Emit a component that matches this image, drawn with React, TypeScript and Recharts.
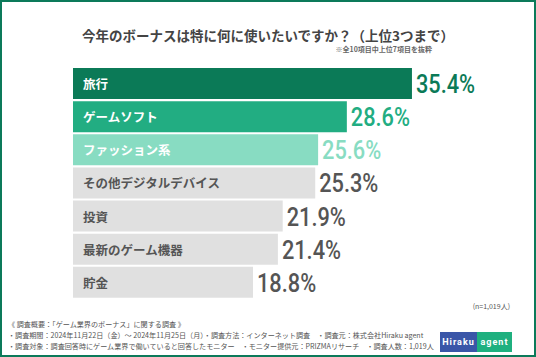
import React from 'react';
import { BarChart, Bar, XAxis, YAxis, Cell, LabelList } from 'recharts';

const categories = ['旅行', 'ゲームソフト', 'ファッション系', 'その他デジタルデバイス', '投資', '最新のゲーム機器', '貯金'];
const values = [35.4, 28.6, 25.6, 25.3, 21.9, 21.4, 18.8];
const barColors = ['#0b7a57', '#22ad82', '#88dcc2', '#e0e0e0', '#e0e0e0', '#e0e0e0', '#e0e0e0'];
const valueColors = ['#0b7a57', '#22ad82', '#88dcc2', '#555555', '#555555', '#555555', '#555555'];
const nameColors = ['#ffffff', '#ffffff', '#ffffff', '#555555', '#555555', '#555555', '#555555'];

const data = categories.map((name, i) => ({ name, value: values[i] }));

const jp = '"Noto Sans CJK JP", "Noto Sans", sans-serif';

const NameLabel = (props: any) => {
  const { x, y, height, index } = props;
  return (
    <text x={x + 10} y={y + height / 2} dominantBaseline="central" fill={nameColors[index]}
      fontSize={12.5} fontWeight={700} fontFamily={jp}>
      {categories[index]}
    </text>
  );
};

// condensed look: squeeze the value label horizontally
const ValueLabel = (props: any) => {
  const { x, y, width, height, index } = props;
  const tx = x + width + 4;
  const ty = y + height / 2 + 1;
  return (
    <g transform={`translate(${tx},${ty}) scale(0.87,1)`}>
      <text x={0} y={0} dominantBaseline="central" fill={valueColors[index]}
        fontSize={25} fontWeight={500} fontFamily="Roboto, sans-serif">
        {values[index].toFixed(1)}%
      </text>
    </g>
  );
};

export default function App() {
  return (
    <div style={{ position: 'absolute', left: 0, top: 0, width: 536, height: 357, background: '#fff', fontFamily: jp }}>
      <div style={{ position: 'absolute', inset: 0, border: '2px solid #0c7a5a', boxSizing: 'border-box' }} />
      <div style={{ position: 'absolute', left: 0, width: 536, top: 25, textAlign: 'center', fontSize: 13.5, fontWeight: 700, color: '#444' }}>
        今年のボーナスは特に何に使いたいですか？（上位3つまで）
      </div>
      <div style={{ position: 'absolute', right: 104, top: 44, fontSize: 7, fontWeight: 700, color: '#666' }}>
        ※全10項目中上位7項目を抜粋
      </div>
      <BarChart width={536} height={357} data={data} layout="vertical" barCategoryGap={1}
        margin={{ top: 67, bottom: 58, left: 73, right: 80 }} style={{ position: 'absolute', left: 0, top: 0 }}>
        <XAxis type="number" domain={[0, 40]} hide />
        <YAxis type="category" dataKey="name" hide />
        <Bar dataKey="value" isAnimationActive={false} barSize={31}>
          {data.map((d, i) => <Cell key={d.name} fill={barColors[i]} />)}
          <LabelList dataKey="value" content={NameLabel} />
          <LabelList dataKey="value" content={ValueLabel} />
        </Bar>
      </BarChart>
      <div style={{ position: 'absolute', right: 26, top: 301, fontSize: 7, color: '#555' }}>(n=1,019人)</div>
      <div style={{ position: 'absolute', left: 8, top: 319, fontSize: 7.1, color: '#555', lineHeight: '11px', whiteSpace: 'nowrap' }}>
        <div>《 調査概要：「ゲーム業界のボーナス」に関する調査 》</div>
        <div>・調査期間：2024年11月22日（金）～ 2024年11月25日（月）・調査方法：インターネット調査　・調査元：株式会社Hiraku agent</div>
        <div>・調査対象：調査回答時にゲーム業界で働いていると回答したモニター　・モニター提供元：PRIZMAリサーチ　・調査人数：1,019人</div>
      </div>
      <div style={{ position: 'absolute', left: 440, top: 332, width: 72, height: 20, display: 'flex', fontSize: 9, fontWeight: 700, color: '#fff', fontFamily: 'Roboto, sans-serif', letterSpacing: 1 }}>
        <div style={{ width: 37, background: '#3a56a8', display: 'flex', alignItems: 'center', justifyContent: 'center' }}>Hiraku</div>
        <div style={{ flex: 1, background: '#1fb07f', display: 'flex', alignItems: 'center', justifyContent: 'center' }}>agent</div>
      </div>
    </div>
  );
}
